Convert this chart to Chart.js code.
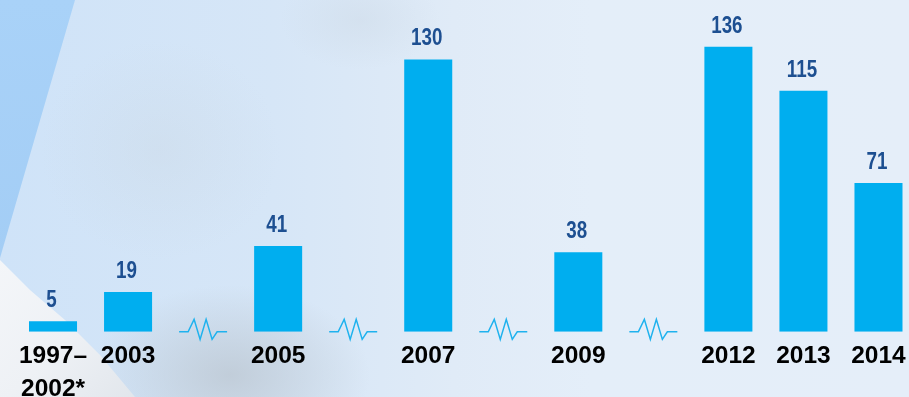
<!DOCTYPE html>
<html>
<head>
<meta charset="utf-8">
<script src="https://cdn.jsdelivr.net/npm/chart.js@4/dist/chart.umd.min.js"></script>
<style>
  html, body { margin: 0; padding: 0; }
  #wrap {
    position: relative; width: 909px; height: 397px; overflow: hidden;
    background:
      radial-gradient(ellipse 140px 90px at 230px 375px, rgba(185,195,205,0.7), rgba(185,195,205,0) 100%),
      radial-gradient(ellipse 120px 110px at 160px 150px, rgba(200,212,222,0.3), rgba(200,212,222,0) 100%),
      radial-gradient(ellipse 80px 50px at 360px 20px, rgba(200,212,224,0.35), rgba(200,212,224,0) 100%),
      linear-gradient(90deg, #cfe3f8 0%, #d6e6f7 30%, #e0ebf7 50%, #e4eef9 65%, #e5eef9 100%);
  }
  #strip {
    position: absolute; left: 0; top: 0; width: 80px; height: 270px;
    background: linear-gradient(180deg, #a9d2f8, #a3cdf5);
    clip-path: polygon(0 0, 75px 0, 0 258px);
  }
  #coat {
    position: absolute; left: 0; top: 255px; width: 160px; height: 142px;
    background: linear-gradient(135deg, #f4f6f9 0%, #eef1f5 50%, #dfe4ea 100%);
    clip-path: polygon(0 5px, 30px 35px, 65px 65px, 100px 100px, 135px 142px, 0 142px);
  }
  canvas { position: absolute; left: 0; top: 0; }
</style>
</head>
<body>
<div id="wrap">
  <div id="strip"></div>
  <div id="coat"></div>
  <canvas id="chart" width="916" height="414"></canvas>
</div>
<script>
// kategori: string kosong = celah dengan tanda putus (zigzag)
const labels = [['1997–', '2002*'], '2003', '', '2005', '', '2007', '', '2009', '', '2012', '2013', '2014'];
const values = [5, 19, null, 41, null, 130, null, 38, null, 136, 115, 71];
const breakSlots = [2, 4, 6, 8];

const barColor = '#00aeef';
const valueColor = '#1d4f91';

// label angka di atas batang (huruf dipersempit seperti Arial Narrow)
const valueLabels = {
  id: 'valueLabels',
  afterDatasetsDraw(chart) {
    const ctx = chart.ctx;
    const meta = chart.getDatasetMeta(0);
    meta.data.forEach((bar, i) => {
      if (values[i] == null) return;
      ctx.save();
      ctx.font = 'bold 23.5px "Liberation Sans", Arial, sans-serif';
      ctx.fillStyle = valueColor;
      ctx.textAlign = 'center';
      ctx.textBaseline = 'alphabetic';
      ctx.translate(bar.x - 1.5, bar.y - 14);
      ctx.scale(0.8, 1);
      ctx.fillText(String(values[i]), 0, 0);
      ctx.restore();
    });
  }
};

// tanda putus sumbu di slot kosong
const axisBreaks = {
  id: 'axisBreaks',
  afterDatasetsDraw(chart) {
    const ctx = chart.ctx;
    const xs = chart.scales.x, ys = chart.scales.y;
    const y0 = ys.getPixelForValue(0);
    const dx = [-24, -15, -9, -3, 3, 9, 14, 24];
    const dy = [0, 0, -12.5, 7.5, -12.5, 7.5, 0, 0];
    ctx.save();
    ctx.strokeStyle = '#1fb2ee';
    ctx.lineWidth = 1.5;
    breakSlots.forEach(i => {
      const cx = xs.getPixelForValue(i);
      ctx.beginPath();
      dx.forEach((d, k) => {
        if (k === 0) ctx.moveTo(cx + d, y0 + dy[k]);
        else ctx.lineTo(cx + d, y0 + dy[k]);
      });
      ctx.stroke();
    });
    ctx.restore();
  }
};

new Chart(document.getElementById('chart'), {
  type: 'bar',
  data: {
    labels: labels,
    datasets: [{
      data: values,
      backgroundColor: barColor,
      borderWidth: 0,
      categoryPercentage: 0.8,
      barPercentage: 0.8
    }]
  },
  options: {
    responsive: false,
    animation: false,
    layout: { autoPadding: false, padding: { top: 7, left: 15.5, right: 0, bottom: 0 } },
    plugins: { legend: { display: false }, tooltip: { enabled: false } },
    scales: {
      x: {
        grid: { display: false, drawTicks: false },
        border: { display: false },
        ticks: {
          autoSkip: false,
          maxRotation: 0,
          padding: 8,
          color: '#000',
          font: { family: '"Liberation Sans", Arial, sans-serif', size: 24.5, weight: 'bold', lineHeight: 1.35 }
        }
      },
      y: {
        display: false,
        min: 0,
        max: 155
      }
    }
  },
  plugins: [valueLabels, axisBreaks]
});
</script>
</body>
</html>
